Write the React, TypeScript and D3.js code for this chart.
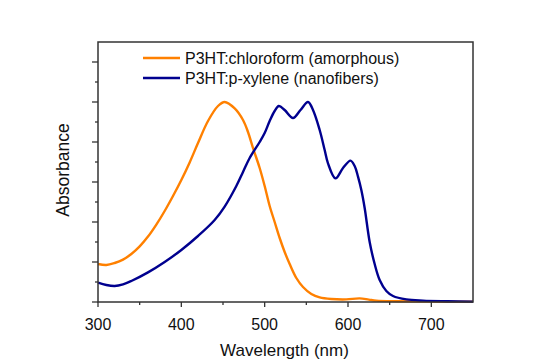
import { useEffect, useRef } from 'react';
import * as d3 from 'd3';

const WIDTH = 550;
const HEIGHT = 363;
const MARGIN = { top: 42, right: 77, bottom: 61, left: 98 };

// wavelength (nm), absorbance (a.u.)
const chloroformNm = [300, 310, 320, 330, 340, 350, 360, 370, 380, 390, 400, 410, 420, 432, 444, 452, 464, 474, 480, 486, 494, 500, 506, 512, 518, 524, 530, 538, 546, 556, 566, 580, 598, 614, 625, 634, 660, 700, 750];
const chloroformAbs = [1.9, 1.85, 1.95, 2.12, 2.4, 2.78, 3.27, 3.87, 4.55, 5.3, 6.1, 6.98, 7.95, 9.05, 9.8, 10.0, 9.68, 9.1, 8.5, 7.7, 6.7, 5.8, 4.8, 4.0, 3.2, 2.5, 1.9, 1.2, 0.75, 0.4, 0.23, 0.15, 0.13, 0.18, 0.12, 0.07, 0.04, 0.02, 0.01];

const xyleneNm = [300, 310, 320, 330, 340, 360, 380, 400, 420, 440, 452, 466, 474, 482, 494, 500, 506, 512, 517, 524, 534, 543, 552, 558, 566, 572, 576, 585, 594, 603, 608, 612, 616, 620, 626, 632, 638, 646, 654, 670, 690, 720, 750];
const xyleneAbs = [0.97, 0.85, 0.8, 0.88, 1.05, 1.48, 2.0, 2.6, 3.3, 4.1, 4.77, 5.8, 6.5, 7.2, 8.0, 8.45, 9.05, 9.55, 9.8, 9.6, 9.2, 9.6, 10.0, 9.6, 8.6, 7.6, 6.93, 6.18, 6.7, 7.07, 6.8, 6.27, 5.6, 4.7, 3.0, 1.9, 1.1, 0.55, 0.3, 0.13, 0.07, 0.04, 0.02];

const xTicks = [300, 400, 500, 600, 700];
const legendLabels = ['P3HT:chloroform (amorphous)', 'P3HT:p-xylene (nanofibers)'];
const colors = ['#ff8000', '#00008f'];

export default function App() {
  const svgRef = useRef<SVGSVGElement>(null);

  useEffect(() => {
    const svg = d3.select(svgRef.current);
    svg.selectAll('*').remove();

    const w = WIDTH - MARGIN.left - MARGIN.right;
    const h = HEIGHT - MARGIN.top - MARGIN.bottom;
    const g = svg.append('g').attr('transform', `translate(${MARGIN.left},${MARGIN.top})`);

    const x = d3.scaleLinear().domain([300, 750]).range([0, w]);
    const y = d3.scaleLinear().domain([0, 13]).range([h, 0]);
    const font = 'Arial, "Liberation Sans", sans-serif';
    const axisColor = '#333';

    // curves
    const line = d3.line<[number, number]>()
      .x((d) => x(d[0]))
      .y((d) => y(d[1]))
      .curve(d3.curveCatmullRom.alpha(0.5));

    const series = [
      d3.zip(chloroformNm, chloroformAbs) as [number, number][],
      d3.zip(xyleneNm, xyleneAbs) as [number, number][],
    ];
    series.forEach((s, i) => {
      g.append('path')
        .datum(s)
        .attr('d', line)
        .attr('fill', 'none')
        .attr('stroke', colors[i])
        .attr('stroke-width', 2.4)
        .attr('stroke-linejoin', 'round');
    });

    // frame
    g.append('rect')
      .attr('x', 0).attr('y', 0).attr('width', w).attr('height', h)
      .attr('fill', 'none').attr('stroke', axisColor).attr('stroke-width', 1.5);

    // x ticks
    const minorX = d3.range(350, 750, 100);
    xTicks.forEach((t) => {
      g.append('line').attr('x1', x(t)).attr('x2', x(t)).attr('y1', h).attr('y2', h + 5)
        .attr('stroke', axisColor).attr('stroke-width', 1.3);
      g.append('text').attr('x', x(t)).attr('y', h + 28)
        .attr('text-anchor', 'middle').attr('font-family', font).attr('font-size', 16)
        .attr('fill', '#111').text(t);
    });
    minorX.forEach((t) => {
      g.append('line').attr('x1', x(t)).attr('x2', x(t)).attr('y1', h).attr('y2', h + 3)
        .attr('stroke', axisColor).attr('stroke-width', 1.3);
    });

    // y ticks (no labels)
    d3.range(0, 13).forEach((t) => {
      const len = t % 2 === 0 ? 6 : 3;
      g.append('line').attr('x1', -len).attr('x2', 0).attr('y1', y(t)).attr('y2', y(t))
        .attr('stroke', axisColor).attr('stroke-width', 1.3);
    });

    // axis titles
    g.append('text').attr('x', w / 2 - 1).attr('y', h + 54)
      .attr('text-anchor', 'middle').attr('font-family', font).attr('font-size', 17)
      .attr('fill', '#111').text('Wavelength (nm)');
    g.append('text')
      .attr('transform', `translate(${-29},${h / 2 - 2}) rotate(-90)`)
      .attr('text-anchor', 'middle').attr('font-family', font).attr('font-size', 17.5)
      .attr('fill', '#111').text('Absorbance');

    // legend
    legendLabels.forEach((label, i) => {
      const ly = 16 + i * 20;
      g.append('line').attr('x1', 45).attr('x2', 82).attr('y1', ly).attr('y2', ly)
        .attr('stroke', colors[i]).attr('stroke-width', 2.4);
      g.append('text').attr('x', 87).attr('y', ly + 6)
        .attr('font-family', font).attr('font-size', 16).attr('fill', '#111').text(label);
    });
  }, []);

  return (
    <svg ref={svgRef} width={WIDTH} height={HEIGHT}
      style={{ position: 'absolute', left: 0, top: 0, background: '#fff' }} />
  );
}
